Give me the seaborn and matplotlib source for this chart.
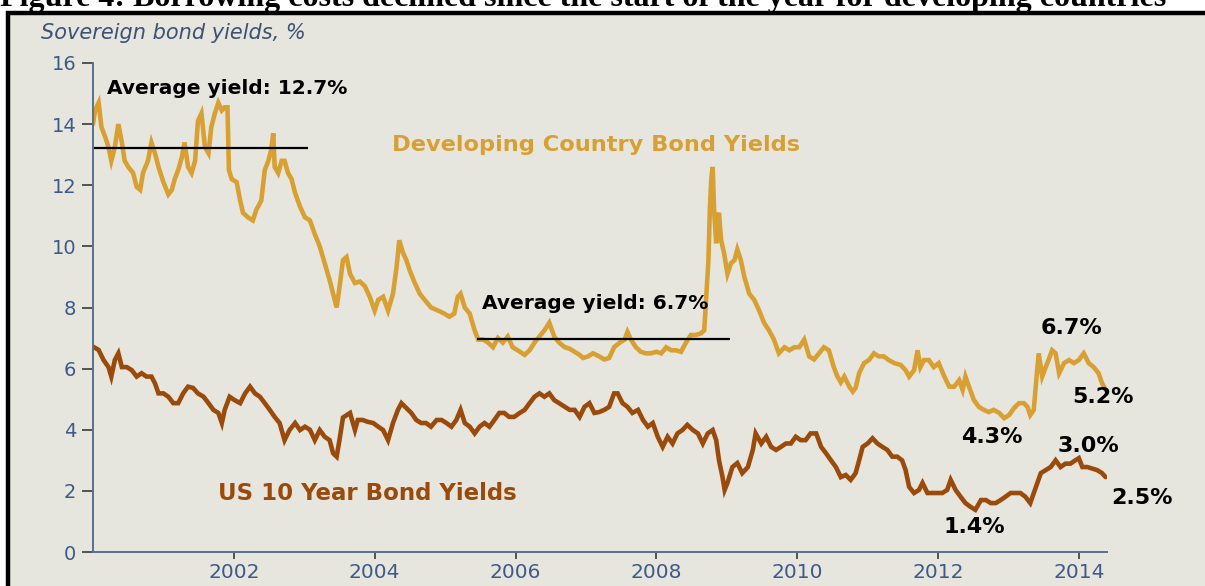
import matplotlib
matplotlib.use("Agg")
import matplotlib.pyplot as plt
from matplotlib.patches import Rectangle
import seaborn as sns
import pandas as pd

# ---------------- data ----------------
dev_years = [2000.00, 2000.03, 2000.08, 2000.12, 2000.17, 2000.22, 2000.26, 2000.31, 2000.36, 2000.41,
             2000.45, 2000.50, 2000.57, 2000.62, 2000.67, 2000.71, 2000.78, 2000.83, 2000.88, 2000.93,
             2001.00, 2001.07, 2001.12, 2001.16, 2001.21, 2001.26, 2001.30, 2001.35, 2001.40, 2001.45,
             2001.49, 2001.54, 2001.59, 2001.64, 2001.68, 2001.73, 2001.78, 2001.83, 2001.87, 2001.91,
             2001.93, 2001.97, 2002.04, 2002.09, 2002.13, 2002.20, 2002.27, 2002.32, 2002.39, 2002.44,
             2002.49, 2002.53, 2002.56, 2002.58, 2002.63, 2002.68, 2002.72, 2002.77, 2002.82, 2002.87,
             2002.94, 2003.01, 2003.08, 2003.15, 2003.22, 2003.29, 2003.36, 2003.41, 2003.46, 2003.50,
             2003.55, 2003.60, 2003.65, 2003.72, 2003.79, 2003.86, 2003.93, 2004.00, 2004.05, 2004.12,
             2004.19, 2004.26, 2004.31, 2004.35, 2004.40, 2004.45, 2004.50, 2004.57, 2004.64, 2004.71,
             2004.80, 2004.90, 2004.99, 2005.06, 2005.13, 2005.18, 2005.22, 2005.28, 2005.35, 2005.42,
             2005.47, 2005.54, 2005.61, 2005.68, 2005.75, 2005.82, 2005.89, 2005.96, 2006.03, 2006.13,
             2006.20, 2006.27, 2006.34, 2006.41, 2006.48, 2006.55, 2006.62, 2006.70, 2006.77, 2006.84,
             2006.91, 2006.96, 2007.03, 2007.10, 2007.19, 2007.26, 2007.33, 2007.40, 2007.48, 2007.55,
             2007.59, 2007.64, 2007.71, 2007.78, 2007.85, 2007.92, 2008.00, 2008.07, 2008.14, 2008.21,
             2008.28, 2008.35, 2008.42, 2008.49, 2008.56, 2008.63, 2008.68, 2008.70, 2008.74, 2008.76,
             2008.78, 2008.80, 2008.82, 2008.85, 2008.87, 2008.89, 2008.92, 2008.96, 2009.01, 2009.06,
             2009.11, 2009.15, 2009.20, 2009.25, 2009.32, 2009.39, 2009.46, 2009.53, 2009.60, 2009.67,
             2009.74, 2009.82, 2009.89, 2009.96, 2010.03, 2010.10, 2010.17, 2010.24, 2010.31, 2010.38,
             2010.45, 2010.52, 2010.57, 2010.62, 2010.67, 2010.74, 2010.79, 2010.83, 2010.88, 2010.95,
             2011.02, 2011.09, 2011.16, 2011.23, 2011.30, 2011.38, 2011.47, 2011.54, 2011.59, 2011.66,
             2011.71, 2011.75, 2011.80, 2011.87, 2011.94, 2012.01, 2012.09, 2012.16, 2012.23, 2012.30,
             2012.35, 2012.39, 2012.44, 2012.51, 2012.58, 2012.65, 2012.72, 2012.79, 2012.87, 2012.94,
             2013.01, 2013.08, 2013.15, 2013.22, 2013.27, 2013.31, 2013.36, 2013.40, 2013.43, 2013.48,
             2013.53, 2013.57, 2013.62, 2013.67, 2013.72, 2013.79, 2013.86, 2013.93, 2014.00, 2014.07,
             2014.14, 2014.21, 2014.28, 2014.33, 2014.38]
dev_vals = [14.0, 14.46, 14.7, 13.9, 13.6, 13.25, 12.8, 13.25, 14.0, 13.4,
            12.8, 12.6, 12.4, 11.95, 11.85, 12.4, 12.8, 13.4, 13.05, 12.6,
            12.1, 11.7, 11.85, 12.2, 12.5, 12.9, 13.4, 12.6, 12.4, 12.8,
            14.1, 14.35, 13.25, 13.05, 13.9, 14.35, 14.7, 14.45, 14.55, 14.55,
            12.5, 12.2, 12.1, 11.5, 11.1, 10.95, 10.85, 11.2, 11.5, 12.5,
            12.8, 13.15, 13.7, 12.6, 12.4, 12.8, 12.8, 12.4, 12.2, 11.75,
            11.3, 10.95, 10.85, 10.4, 10.0, 9.45, 8.9, 8.45, 8.0, 8.65,
            9.55, 9.65, 9.1, 8.8, 8.85, 8.7, 8.35, 7.9, 8.25, 8.35,
            7.9, 8.45, 9.3, 10.2, 9.8, 9.55, 9.2, 8.8, 8.45, 8.25,
            8.0, 7.9, 7.8, 7.7, 7.8, 8.35, 8.45, 8.0, 7.8, 7.25,
            6.95, 6.95, 6.85, 6.7, 7.0, 6.85, 7.05, 6.7, 6.6, 6.45,
            6.6, 6.85, 7.05, 7.25, 7.5, 7.05, 6.85, 6.7, 6.65, 6.55,
            6.45, 6.35, 6.4, 6.5, 6.4, 6.3, 6.35, 6.7, 6.85, 6.95,
            7.2, 6.95, 6.7, 6.55, 6.5, 6.5, 6.55, 6.5, 6.7, 6.6,
            6.6, 6.55, 6.85, 7.1, 7.1, 7.15, 7.25, 8.0, 9.55, 11.2,
            12.2, 12.6, 11.2, 10.1, 10.95, 11.1, 10.2, 9.8, 9.1, 9.45,
            9.55, 9.9, 9.55, 9.0, 8.45, 8.25, 7.9, 7.5, 7.25, 6.95,
            6.5, 6.7, 6.6, 6.7, 6.7, 6.95, 6.4, 6.3, 6.5, 6.7,
            6.6, 6.05, 5.75, 5.55, 5.74, 5.41, 5.25, 5.37, 5.85, 6.18,
            6.28, 6.5, 6.4, 6.4, 6.28, 6.18, 6.12, 5.95, 5.74, 5.95,
            6.6, 6.05, 6.28, 6.28, 6.05, 6.18, 5.74, 5.41, 5.41, 5.62,
            5.3, 5.74, 5.41, 4.97, 4.75, 4.65, 4.58, 4.65, 4.55, 4.38,
            4.48, 4.71, 4.87, 4.87, 4.75, 4.48, 4.65, 5.74, 6.5, 5.74,
            6.05, 6.28, 6.6, 6.5, 5.85, 6.18, 6.28, 6.18, 6.28, 6.5,
            6.18, 6.05, 5.85, 5.52, 5.3]

us_years = [2000.00, 2000.08, 2000.15, 2000.22, 2000.26, 2000.31, 2000.36, 2000.41, 2000.48, 2000.55,
            2000.62, 2000.69, 2000.76, 2000.83, 2000.88, 2000.93, 2001.00, 2001.07, 2001.14, 2001.21,
            2001.28, 2001.35, 2001.42, 2001.49, 2001.57, 2001.64, 2001.71, 2001.78, 2001.83, 2001.87,
            2001.94, 2002.01, 2002.09, 2002.16, 2002.23, 2002.30, 2002.37, 2002.44, 2002.51, 2002.58,
            2002.65, 2002.72, 2002.79, 2002.87, 2002.94, 2003.01, 2003.08, 2003.15, 2003.22, 2003.29,
            2003.36, 2003.41, 2003.46, 2003.50, 2003.55, 2003.65, 2003.72, 2003.76, 2003.83, 2003.90,
            2003.98, 2004.05, 2004.12, 2004.19, 2004.26, 2004.33, 2004.38, 2004.45, 2004.52, 2004.59,
            2004.66, 2004.73, 2004.80, 2004.88, 2004.95, 2005.02, 2005.09, 2005.16, 2005.22, 2005.28,
            2005.35, 2005.42, 2005.49, 2005.56, 2005.63, 2005.70, 2005.77, 2005.84, 2005.91, 2005.98,
            2006.06, 2006.13, 2006.20, 2006.27, 2006.34, 2006.41, 2006.48, 2006.55, 2006.62, 2006.70,
            2006.77, 2006.84, 2006.91, 2006.98, 2007.05, 2007.12, 2007.19, 2007.26, 2007.33, 2007.40,
            2007.45, 2007.52, 2007.59, 2007.66, 2007.74, 2007.81, 2007.88, 2007.95, 2008.02, 2008.09,
            2008.16, 2008.23, 2008.30, 2008.37, 2008.44, 2008.52, 2008.59, 2008.66, 2008.73, 2008.80,
            2008.85, 2008.89, 2008.94, 2008.97, 2009.01, 2009.08, 2009.15, 2009.22, 2009.30, 2009.37,
            2009.41, 2009.49, 2009.56, 2009.63, 2009.70, 2009.77, 2009.84, 2009.91, 2009.98, 2010.05,
            2010.12, 2010.19, 2010.27, 2010.34, 2010.41, 2010.48, 2010.55, 2010.62, 2010.69, 2010.76,
            2010.83, 2010.88, 2010.93, 2011.00, 2011.07, 2011.14, 2011.21, 2011.28, 2011.35, 2011.42,
            2011.49, 2011.54, 2011.59, 2011.66, 2011.73, 2011.78, 2011.85, 2011.92, 2011.99, 2012.06,
            2012.13, 2012.18, 2012.25, 2012.32, 2012.39, 2012.46, 2012.53, 2012.61, 2012.68, 2012.75,
            2012.82, 2012.89, 2012.96, 2013.03, 2013.10, 2013.17, 2013.24, 2013.31, 2013.36, 2013.41,
            2013.46, 2013.53, 2013.60, 2013.67, 2013.74, 2013.81, 2013.88, 2013.95, 2014.00, 2014.05,
            2014.12, 2014.19, 2014.26, 2014.33, 2014.38]
us_vals = [6.72, 6.61, 6.28, 6.05, 5.74, 6.28, 6.5, 6.05, 6.05, 5.95,
           5.74, 5.85, 5.74, 5.74, 5.52, 5.19, 5.19, 5.08, 4.87, 4.87,
           5.19, 5.41, 5.37, 5.19, 5.08, 4.87, 4.65, 4.55, 4.22, 4.65,
           5.08, 4.97, 4.87, 5.19, 5.41, 5.19, 5.08, 4.87, 4.65, 4.42,
           4.22, 3.66, 3.99, 4.22, 3.99, 4.1, 4.0, 3.66, 3.99, 3.77,
           3.66, 3.23, 3.12, 3.66, 4.4, 4.55, 3.99, 4.32, 4.32, 4.26,
           4.22, 4.1, 3.99, 3.66, 4.22, 4.65, 4.87, 4.71, 4.55, 4.32,
           4.22, 4.22, 4.1, 4.32, 4.32, 4.22, 4.1, 4.32, 4.65, 4.22,
           4.1, 3.88, 4.1, 4.22, 4.1, 4.32, 4.55, 4.55, 4.42, 4.42,
           4.55, 4.65, 4.87, 5.08, 5.19, 5.08, 5.19, 4.97, 4.87, 4.75,
           4.65, 4.65, 4.42, 4.75, 4.87, 4.55, 4.58, 4.65, 4.75, 5.19,
           5.19, 4.87, 4.75, 4.55, 4.65, 4.32, 4.1, 4.22, 3.77, 3.44,
           3.77, 3.55, 3.88, 3.99, 4.16, 3.99, 3.88, 3.55, 3.88, 3.99,
           3.66, 3.0, 2.45, 2.03, 2.26, 2.78, 2.91, 2.58, 2.78, 3.34,
           3.88, 3.55, 3.77, 3.44, 3.34, 3.44, 3.55, 3.55, 3.77, 3.66,
           3.66, 3.88, 3.88, 3.44, 3.23, 3.0, 2.78, 2.45, 2.52, 2.36,
           2.58, 3.0, 3.44, 3.55, 3.72, 3.55, 3.44, 3.34, 3.12, 3.12,
           3.0, 2.68, 2.13, 1.93, 2.03, 2.26, 1.93, 1.93, 1.93, 1.93,
           2.03, 2.36, 2.03, 1.81, 1.6, 1.48, 1.38, 1.7, 1.7, 1.6,
           1.6, 1.7, 1.81, 1.93, 1.93, 1.93, 1.81, 1.6, 1.93, 2.26,
           2.58, 2.68, 2.78, 3.0, 2.78, 2.89, 2.89, 3.0, 3.07, 2.78,
           2.78, 2.73, 2.68, 2.58, 2.45]

avg_labels = ["Average yield: 12.7%", "Average yield: 6.7%"]
avg_levels = [13.22, 6.97]
avg_spans = [(2000.0, 2003.05), (2005.46, 2009.04)]

point_labels = ["6.7%", "5.2%", "4.3%", "3.0%", "2.5%", "1.4%"]

x_ticks = [2002, 2004, 2006, 2008, 2010, 2012, 2014]
y_ticks = [0, 2, 4, 6, 8, 10, 12, 14, 16]

title_text = "Figure 4: Borrowing costs declined since the start of the year for developing countries"
subtitle_text = "Sovereign bond yields, %"
dev_name = "Developing Country Bond Yields"
us_name = "US 10 Year Bond Yields"

# ---------------- styling ----------------
BG = "#e6e6df"
DEV_C = "#d8a032"
US_C = "#9a4a0a"
TICK_C = "#3f5a85"
SPINE_C = "#5b6f8c"

sns.set_theme(style="white")
plt.rcParams["font.family"] = ["DejaVu Sans"]

fig = plt.figure(figsize=(12.05, 5.86), dpi=100)
fig.patch.set_facecolor("white")

# frame with background (drawn beneath the axes)
frame = Rectangle((8 / 1205, -0.05), 1.2, 1 - 13 / 586 + 0.05, transform=fig.transFigure,
                  facecolor=BG, edgecolor="black", linewidth=3.2, zorder=-10)
fig.patches.append(frame)

fig.text(0.0, 1 - 6 / 586, title_text, fontsize=23, fontweight="bold",
         family=["Liberation Serif", "DejaVu Serif"], va="baseline", ha="left", color="black",
         zorder=-5)

fig.text(41 / 1205, 1 - 33 / 586, subtitle_text, fontsize=15, style="italic",
         color="#3d5273", va="center", ha="left")

ax = fig.add_axes([93 / 1205, 1 - 552 / 586, (1107 - 93) / 1205, (552 - 63) / 586])
ax.set_facecolor(BG)
ax.patch.set_alpha(0)

dev_df = pd.DataFrame({"year": dev_years, "yield": dev_vals})
us_df = pd.DataFrame({"year": us_years, "yield": us_vals})

sns.lineplot(data=dev_df, x="year", y="yield", ax=ax, color=DEV_C, linewidth=3.3,
             estimator=None, sort=False, solid_joinstyle="miter")
sns.lineplot(data=us_df, x="year", y="yield", ax=ax, color=US_C, linewidth=3.3,
             estimator=None, sort=False, solid_joinstyle="miter")

for (x0, x1), lvl in zip(avg_spans, avg_levels):
    ax.plot([x0, x1], [lvl, lvl], color="black", linewidth=1.6, solid_capstyle="butt")

ax.set_xlim(2000.0, 2014.4)
ax.set_ylim(0, 16)
ax.set_xticks(x_ticks)
ax.set_yticks(y_ticks)
ax.set_xlabel("")
ax.set_ylabel("")
for s in ["top", "right"]:
    ax.spines[s].set_visible(False)
for s in ["left", "bottom"]:
    ax.spines[s].set_color(SPINE_C)
    ax.spines[s].set_linewidth(1.4)
ax.tick_params(axis="y", direction="out", length=8, width=1.2, color="#3a3a3a",
               labelsize=14, labelcolor=TICK_C, pad=4, left=True)
ax.tick_params(axis="x", direction="out", length=5, width=1.2, color="#3a3a3a",
               labelsize=14.5, labelcolor=TICK_C, pad=3, bottom=True)

# annotations
ax.text(2000.2, 15.18, avg_labels[0], fontsize=14.5, fontweight="bold", color="black",
        va="center", ha="left")
ax.text(2005.53, 8.12, avg_labels[1], fontsize=14.5, fontweight="bold", color="black",
        va="center", ha="left")
ax.text(2004.24, 13.32, dev_name, fontsize=16.2, fontweight="bold", color=DEV_C,
        va="center", ha="left")
ax.text(2001.77, 1.93, us_name, fontsize=16.5, fontweight="bold", color=US_C,
        va="center", ha="left")

label_pos = [(2013.89, 7.33), (2014.35, 5.07), (2012.77, 3.76),
             (2014.14, 3.47), (2014.89, 1.77), (2012.52, 0.82)]
for lab, (lx, ly) in zip(point_labels, label_pos):
    ax.text(lx, ly, lab, fontsize=16, fontweight="bold", color="black",
            va="center", ha="center", clip_on=False)

fig.savefig("out.png", dpi=100, facecolor=fig.get_facecolor())
